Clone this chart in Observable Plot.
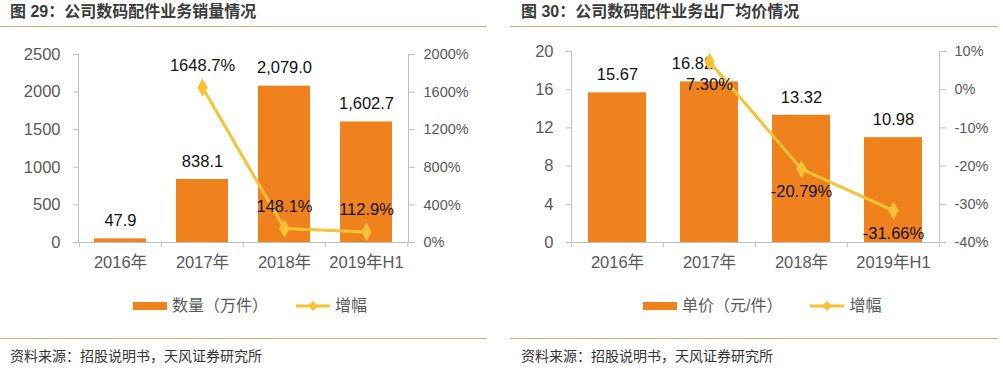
<!DOCTYPE html>
<html>
<head>
<meta charset="utf-8">
<script src="https://cdn.jsdelivr.net/npm/d3@7"></script>
<script src="https://cdn.jsdelivr.net/npm/@observablehq/plot@0.6"></script>
<style>
  html, body { margin: 0; padding: 0; background: #fff; }
  #root { position: relative; width: 1003px; height: 370px; overflow: hidden; background: #fff;
          font-family: "Liberation Sans", "Noto Sans CJK SC", sans-serif; }
  .abs { position: absolute; }
  .title { font-size: 16px; font-weight: bold; color: #3b3b3b; white-space: nowrap; line-height: 20px; }
  .hline { height: 1px; background: #CFAE7A; }
  .source { font-size: 14px; color: #333; white-space: nowrap; line-height: 18px; }
  .legend { font-size: 16px; color: #595959; white-space: nowrap; line-height: 20px; display: flex; align-items: center; }
  .legend svg { display: block; }
  .overlay svg { position: absolute; left: 0; top: 0; }
</style>
</head>
<body>
<div id="root"></div>
<script>
// ---------- data ----------
const categories = ["2016年", "2017年", "2018年", "2019年H1"];
const volume = [47.9, 838.1, 2079.0, 1602.7];          // 数量（万件）
const volumeGrowth = [null, 1648.7, 148.1, 112.9];     // 增幅 %
const price = [15.67, 16.82, 13.32, 10.98];            // 单价（元/件）
const priceGrowth = [null, 7.30, -20.79, -31.66];      // 增幅 %
const volumeTicks = [0, 500, 1000, 1500, 2000, 2500];
const volumeGrowthTicks = [0, 400, 800, 1200, 1600, 2000];
const priceTicks = [0, 4, 8, 12, 16, 20];
const priceGrowthTicks = [-40, -30, -20, -10, 0, 10];

const titles = ["图 29：公司数码配件业务销量情况", "图 30：公司数码配件业务出厂均价情况"];
const barNames = ["数量（万件）", "单价（元/件）"];
const lineName = "增幅";
const sourceText = "资料来源：招股说明书，天风证券研究所";

// ---------- style ----------
const ORANGE = "#F0821E";
const GOLD = "#F8C236";
const AXIS = "#BFBFBF";
const TICKTXT = "#595959";
const FONT = "'Liberation Sans', 'Noto Sans CJK SC', sans-serif";

const root = document.getElementById("root");
function el(cls, css, html) {
  const d = document.createElement("div");
  d.className = "abs " + cls;
  Object.assign(d.style, css);
  if (html != null) d.innerHTML = html;
  root.appendChild(d);
  return d;
}

function panel(cfg) {
  const {left, width, title, titleX, lineX1, lineX2, m, barVals, barFmt, barTicks,
         growthVals, growthFmt, growthTicks, growthDy, barDy, barDx, legendX, barName} = cfg;
  const H = 280;
  el("title", {left: titleX + "px", top: "2px"}, title);
  el("hline", {left: lineX1 + "px", top: "26px", width: (lineX2 - lineX1) + "px"});
  el("hline", {left: lineX1 + "px", top: "338px", width: (lineX2 - lineX1) + "px"});
  el("source", {left: titleX + "px", top: "347px"}, sourceText);

  const bars = categories.map((c, i) => ({cat: c, v: barVals[i], i}));
  const growth = categories.map((c, i) => ({cat: c, g: growthVals[i]})).filter(d => d.g != null);
  const step = (width - m.l - m.r) / categories.length;
  const xOpt = {domain: categories, paddingInner: 0.37, paddingOuter: 0.185, axis: null};
  const common = {width, height: H, marginLeft: m.l, marginRight: m.r, marginTop: m.t, marginBottom: m.b,
                  style: {background: "transparent", fontFamily: FONT, overflow: "visible"}};

  const p1 = Plot.plot({
    ...common,
    x: xOpt,
    y: {domain: [barTicks[0], barTicks[barTicks.length - 1]], axis: null},
    marks: [
      Plot.barY(bars, {x: "cat", y: "v", fill: ORANGE}),
      Plot.frame({anchor: "left", stroke: AXIS}),
      Plot.axisY({ticks: barTicks, anchor: "left", label: null, tickSize: 5, tickPadding: 13, stroke: AXIS,
                  fill: TICKTXT, fontSize: 16.5, tickFormat: d => String(d)}),
      Plot.ruleY([barTicks[0]], {stroke: AXIS}),
      Plot.axisX({anchor: "bottom", label: null, tickSize: 5, dx: -step / 2, stroke: AXIS, tickFormat: () => ""}),
      Plot.axisX({anchor: "bottom", label: null, ticks: [categories[categories.length - 1]], tickSize: 5,
                  dx: step / 2, stroke: AXIS, tickFormat: () => ""}),
      Plot.axisX({anchor: "bottom", label: null, tickSize: 0, tickPadding: 14, fill: TICKTXT, fontSize: 16.5}),
      Plot.text(bars.filter(d => !barDx(d.i)), {x: "cat", y: "v", text: d => barFmt(d.v), dy: barDy,
                  fontSize: 16.5, fill: "#111"}),
      Plot.text(bars.filter(d => barDx(d.i)), {x: "cat", y: "v", text: d => barFmt(d.v), dy: barDy, dx: -17,
                  fontSize: 16.5, fill: "#111"})
    ]
  });

  const p2 = Plot.plot({
    ...common,
    x: xOpt,
    y: {domain: [growthTicks[0], growthTicks[growthTicks.length - 1]], axis: null},
    marks: [
      Plot.frame({anchor: "right", stroke: AXIS}),
      Plot.axisY({ticks: growthTicks, anchor: "right", label: null, tickSize: 6, tickPadding: 9, stroke: AXIS,
                  fill: TICKTXT, fontSize: 14.5, tickFormat: d => d + "%"}),
      Plot.line(growth, {x: "cat", y: "g", stroke: GOLD, strokeWidth: 3}),
      Plot.dot(growth, {x: "cat", y: "g", symbol: "diamond", fill: GOLD, stroke: "none", r: 5.5}),
      Plot.text(growth, {x: "cat", y: "g", text: d => growthFmt(d.g), dy: growthDy, fontSize: 16.5, fill: "#111"})
    ]
  });

  const holder = el("overlay", {left: left + "px", top: "0px", width: width + "px", height: H + "px"});
  holder.appendChild(p1);
  holder.appendChild(p2);

  // legend
  const lg = el("legend", {left: legendX + "px", top: "296px"});
  lg.innerHTML =
    `<svg width="34" height="10"><rect x="0" y="1" width="34" height="8" fill="${ORANGE}"/></svg>` +
    `<span style="margin-left:5px">${barName}</span>` +
    `<svg width="34" height="12" style="margin-left:28px"><line x1="0" y1="6" x2="34" y2="6" stroke="${GOLD}" stroke-width="3"/>` +
    `<path d="M17 1 L22 6 L17 11 L12 6 Z" fill="${GOLD}"/></svg>` +
    `<span style="margin-left:5px">${lineName}</span>`;
}

panel({
  left: 0, width: 497, title: titles[0], titleX: 10, lineX1: 0, lineX2: 487,
  m: {l: 78, r: 89, t: 54, b: 38},
  barVals: volume, barFmt: d3.format(",.1f"), barTicks: volumeTicks,
  growthVals: volumeGrowth, growthFmt: d => d.toFixed(1) + "%", growthTicks: volumeGrowthTicks,
  growthDy: -22, barDy: -18, barDx: () => false, legendX: 133, barName: barNames[0]
});

panel({
  left: 500, width: 503, title: titles[1], titleX: 521, lineX1: 510, lineX2: 998,
  m: {l: 71, r: 64, t: 51, b: 38},
  barVals: price, barFmt: d => d.toFixed(2), barTicks: priceTicks,
  growthVals: priceGrowth, growthFmt: d => d.toFixed(2) + "%", growthTicks: priceGrowthTicks,
  growthDy: 23, barDy: -18, barDx: i => i === 1, legendX: 643, barName: barNames[1]
});
</script>
</body>
</html>
